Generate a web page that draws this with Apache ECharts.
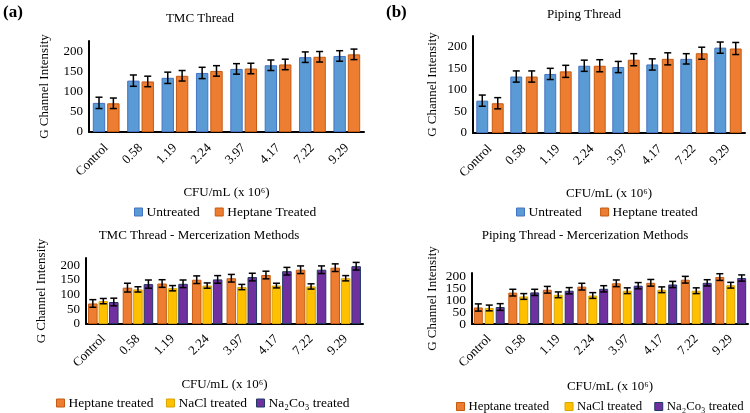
<!DOCTYPE html>
<html><head><meta charset="utf-8">
<script src="https://cdn.jsdelivr.net/npm/echarts@6/dist/echarts.min.js"></script>
<style>html,body{margin:0;padding:0;background:#fff}#c{width:750px;height:413px}</style>
</head><body><div id="c"></div>
<script>
const categories = ['Control','0.58','1.19','2.24','3.97','4.17','7.22','9.29'];
const tmcUntreated = [72,127,134,146,156,165,185,188];
const tmcUntreatedErr = [14,14,14,14,13,13,13,13];
const tmcHeptane = [71,125,139,151,157,167,186,192];
const tmcHeptaneErr = [13,13,13,13,13,13,13,13];
const pipUntreated = [75,131,137,156,153,159,172,198];
const pipUntreatedErr = [13,13,13,13,13,13,12,13];
const pipHeptane = [69,131,143,156,170,172,185,196];
const pipHeptaneErr = [13,13,14,14,14,14,14,14];
const tmcMercHeptane = [70,124,138,151,156,167,185,192];
const tmcMercHeptaneErr = [13,15,13,13,13,13,13,13];
const tmcMercNaCl = [78,118,122,131,126,131,128,156];
const tmcMercNaClErr = [9,9,9,9,9,8,9,9];
const tmcMercNa2CO3 = [75,136,137,152,160,180,185,197];
const tmcMercNa2CO3Err = [13,14,13,13,13,13,13,13];
const pipMercHeptane = [69,131,143,156,170,172,185,196];
const pipMercHeptaneErr = [15,14,14,14,14,14,14,14];
const pipMercNaCl = [67,115,122,119,139,143,139,162];
const pipMercNaClErr = [12,12,12,12,12,12,12,12];
const pipMercNa2CO3 = [71,132,139,147,160,165,172,192];
const pipMercNa2CO3Err = [14,13,13,13,13,13,13,13];
const yTicks = [0,50,100,150,200];

const FONT = "'Liberation Serif','Times New Roman',serif";
const COL = {
  blue:{fill:'#5B9BD5', border:'#4472C4'},
  orange:{fill:'#ED7D31', border:'#C55A11'},
  yellow:{fill:'#FFC000', border:'#D9A400'},
  purple:{fill:'#7030A0', border:'#203864'}
};

const chart = echarts.init(document.getElementById('c'));

const panels = [
  {grid:{left:89, top:41, width:275, height:91}, max:225,
   xname:54, yname:38, lmargin:14, yfs:13, lfs:13.5,
   legend:{left:129, top:200, itemGap:15},
   barW:0.36, gap:0.16,
   series:[['Untreated',tmcUntreated,tmcUntreatedErr,'blue'],['Heptane Treated',tmcHeptane,tmcHeptaneErr,'orange']]},
  {grid:{left:473, top:36, width:272, height:97}, max:225,
   xname:54, yname:34, lmargin:14, yfs:13, lfs:13.5,
   legend:{left:511, top:200, itemGap:15},
   barW:0.35, gap:0.3,
   series:[['Untreated ',pipUntreated,pipUntreatedErr,'blue'],['Heptane treated',pipHeptane,pipHeptaneErr,'orange']]},
  {grid:{left:86, top:258, width:277, height:66}, max:225,
   xname:54, yname:38, lmargin:13, yfs:13, lfs:13.5,
   legend:{left:51, top:391, itemGap:9},
   barW:0.275, gap:0.1,
   series:[['Heptane treated ',tmcMercHeptane,tmcMercHeptaneErr,'orange'],['NaCl treated',tmcMercNaCl,tmcMercNaClErr,'yellow'],['Na₂Co₃ treated',tmcMercNa2CO3,tmcMercNa2CO3Err,'purple']]},
  {grid:{left:472, top:273, width:276, height:51}, max:213,
   xname:56, yname:33, lmargin:13, yfs:13.5, lfs:12.8, split:true,
   legend:{left:451, top:395, itemGap:9},
   barW:0.26, gap:0.22,
   series:[['Heptane treated  ',pipMercHeptane,pipMercHeptaneErr,'orange'],['NaCl treated ',pipMercNaCl,pipMercNaClErr,'yellow'],['Na₂Co₃ treated ',pipMercNa2CO3,pipMercNa2CO3Err,'purple']]}
];

const grids=[], xAxes=[], yAxes=[], legends=[], series=[], extraY=[];
panels.forEach((p, gi) => {
  grids.push(p.grid);
  xAxes.push({type:'category', gridIndex:gi, data:categories,
    name:'CFU/mL (x 10⁶)', nameLocation:'middle', nameGap:p.xname,
    nameTextStyle:{fontFamily:FONT, fontSize:13, color:'#000'},
    axisLine:{lineStyle:{color:'#000', width:2}}, axisTick:{show:false},
    axisLabel:{rotate:45, margin:p.lmargin, fontFamily:FONT, fontSize:13, color:'#000', interval:0, hideOverlap:false}});
  yAxes.push({type:'value', gridIndex:gi, position:'left', min:0, max:p.max, interval:50,
    name:'G Channel Intensity', nameLocation:'middle', nameGap:p.yname,
    nameTextStyle:{fontFamily:FONT, fontSize:13, color:'#000'},
    splitLine:{show:false}, axisTick:{show:false},
    axisLine:{show:true, lineStyle:{color:'#000', width:2}},
    axisLabel:{fontFamily:FONT, fontSize:p.yfs, color:'#000', margin:6, showMaxLabel:false,
      showMinLabel: p.split ? false : true, hideOverlap:false,
      formatter: v => yTicks.indexOf(v) >= 0 ? String(v) : ''}});
  if (p.split) {
    // second label-only axis so the "0" label is drawn alongside the tight 50 label
    extraY.push({type:'value', gridIndex:gi, position:'left', min:0, max:p.max, interval:50, offset:0,
      splitLine:{show:false}, axisTick:{show:false}, axisLine:{show:false},
      axisLabel:{fontFamily:FONT, fontSize:p.yfs, color:'#000', margin:6, showMaxLabel:false, showMinLabel:true, hideOverlap:false,
        formatter: v => v === yTicks[0] ? String(v) : ''}});
  }
  legends.push(Object.assign({data:p.series.map(s=>s[0]), itemWidth:8, itemHeight:8,
    icon:'rect', itemStyle:{borderWidth:1}, width:320,
    textStyle:{fontFamily:FONT, fontSize:p.lfs, color:'#000', padding:[0,0,0,-1]}}, p.legend));
  const n = p.series.length;
  p.series.forEach((s, si) => {
    const c = COL[s[3]];
    series.push({type:'bar', name:s[0], xAxisIndex:gi, yAxisIndex:gi, data:s[1],
      barWidth:(p.barW*100)+'%', barGap:(p.gap*100)+'%',
      itemStyle:{color:c.fill, borderColor:c.border, borderWidth:1}});
  });
  p.series.forEach((s, si) => {
    const data = s[1].map((v,i)=>[i, v, s[2][i]]);
    series.push({type:'custom', name:'err'+gi+'_'+si, xAxisIndex:gi, yAxisIndex:gi, z:5,
      data:data, encode:{x:0, y:1},
      renderItem:(params, api) => {
        const idx = api.value(0), v = api.value(1), e = api.value(2);
        const catW = api.size([1,0])[0];
        const bw = catW*p.barW;
        const total = n*bw + (n-1)*p.gap*bw;
        const off = -total/2 + bw/2 + si*bw*(1+p.gap);
        const top = api.coord([idx, v+e]);
        const bot = api.coord([idx, v-e]);
        const x = top[0] + off;
        const hw = 3.5;
        const st = {stroke:'#000', lineWidth:1.5};
        return {type:'group', children:[
          {type:'line', shape:{x1:x, y1:top[1], x2:x, y2:bot[1]}, style:st},
          {type:'line', shape:{x1:x-hw, y1:top[1], x2:x+hw, y2:top[1]}, style:st},
          {type:'line', shape:{x1:x-hw, y1:bot[1], x2:x+hw, y2:bot[1]}, style:st}
        ]};
      }});
  });
});

const tStyle = {fontFamily:FONT, fontSize:13, fontWeight:'normal', color:'#000'};
chart.setOption({
  animation:false,
  title:[
    {text:'(a)', left:3, top:4, padding:0, textStyle:{fontFamily:FONT, fontSize:17, fontWeight:'bold', color:'#000'}},
    {text:'(b)', left:386, top:4, padding:0, textStyle:{fontFamily:FONT, fontSize:17, fontWeight:'bold', color:'#000'}},
    {text:'TMC Thread', left:200, textAlign:'center', top:12, padding:0, textStyle:tStyle},
    {text:'Piping Thread', left:584, textAlign:'center', top:8, padding:0, textStyle:tStyle},
    {text:'TMC Thread - Mercerization Methods', left:199, textAlign:'center', top:229, padding:0, textStyle:tStyle},
    {text:'Piping Thread - Mercerization Methods', left:585, textAlign:'center', top:229, padding:0, textStyle:tStyle}
  ],
  grid:grids, xAxis:xAxes, yAxis:yAxes.concat(extraY), legend:legends, series:series
});
</script></body></html>
